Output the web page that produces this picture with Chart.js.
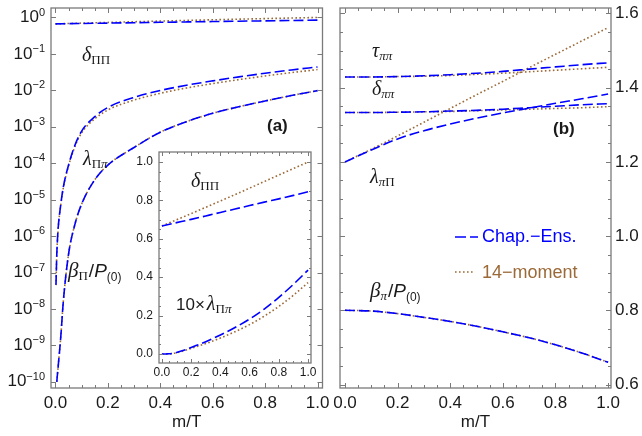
<!DOCTYPE html>
<html>
<head>
<meta charset="utf-8">
<script src="https://cdn.jsdelivr.net/npm/chart.js@4.4.1/dist/chart.umd.min.js"></script>
<style>
body { margin: 0; background: #fff; }
#wrap { position: relative; width: 642px; height: 436px; }
canvas { position: absolute; left: 0; top: 0; }
</style>
</head>
<body>
<div id="wrap">
  <canvas id="left" width="642" height="436"></canvas>
  <canvas id="right" width="642" height="436"></canvas>
  <canvas id="inset" width="642" height="436"></canvas>
</div>
<script>
// m/T grid used for the steep curves of panel (a) and the inset
const mtFine = [0, 0.002, 0.005, 0.01, 0.02, 0.03, 0.05, 0.075, 0.1, 0.15, 0.2, 0.3, 0.4, 0.5, 0.6, 0.7, 0.8, 0.9, 1.0];
// m/T grid for the smooth curves
const mtCoarse = [0, 0.1, 0.2, 0.3, 0.4, 0.5, 0.6, 0.7, 0.8, 0.9, 1.0];

// panel (a), log scale
const lamBulkCE  = [0, 4.6e-8, 3.0e-7, 1.5e-6, 7.1e-6, 2.2e-5, 8.9e-5, 3.2e-4, 7.6e-4, 1.9e-3, 3.4e-3, 6.4e-3, 9.9e-3, 1.38e-2, 1.82e-2, 2.34e-2, 2.95e-2, 3.63e-2, 4.37e-2];
const lamBulk14  = [0, 4.5e-8, 2.9e-7, 1.45e-6, 6.9e-6, 2.1e-5, 8.4e-5, 2.95e-4, 6.8e-4, 1.65e-3, 2.9e-3, 5.4e-3, 8.3e-3, 1.16e-2, 1.53e-2, 1.97e-2, 2.48e-2, 3.06e-2, 3.72e-2];
const betaBulk   = [null, null, 1.0e-10, 2.5e-10, 1.6e-9, 1.6e-8, 3.2e-7, 2.2e-6, 7.6e-6, 3.5e-5, 8.9e-5, 2.7e-4, 7.1e-4, 1.38e-3, 2.34e-3, 3.55e-3, 5.1e-3, 7.2e-3, 9.8e-3];
const deltaBulkCE = [0.667, 0.684, 0.701, 0.719, 0.737, 0.755, 0.773, 0.791, 0.808, 0.826, 0.845];
const deltaBulk14 = [0.667, 0.699, 0.731, 0.764, 0.797, 0.830, 0.864, 0.898, 0.932, 0.966, 1.0];

// panel (b)
const tauShearCE   = [1.429, 1.429, 1.430, 1.432, 1.435, 1.439, 1.444, 1.450, 1.456, 1.462, 1.467];
const tauShear14   = [1.429, 1.429, 1.430, 1.431, 1.433, 1.436, 1.439, 1.443, 1.447, 1.451, 1.455];
const deltaShearCE = [1.333, 1.333, 1.334, 1.335, 1.337, 1.339, 1.342, 1.346, 1.350, 1.354, 1.357];
const deltaShear14 = [1.333, 1.333, 1.334, 1.335, 1.336, 1.338, 1.340, 1.342, 1.344, 1.346, 1.349];
const lamShearCE   = [1.200, 1.232, 1.262, 1.284, 1.302, 1.318, 1.332, 1.345, 1.358, 1.370, 1.383];
const lamShear14   = [1.200, 1.234, 1.270, 1.307, 1.344, 1.381, 1.417, 1.454, 1.490, 1.526, 1.562];
const betaShear    = [0.800, 0.798, 0.791, 0.781, 0.770, 0.757, 0.742, 0.726, 0.707, 0.685, 0.660];

// tick labels
const xTickVals = [0, 0.2, 0.4, 0.6, 0.8, 1.0];
const xTickLabels = ['0.0', '0.2', '0.4', '0.6', '0.8', '1.0'];
const logTickVals = [1, 1e-1, 1e-2, 1e-3, 1e-4, 1e-5, 1e-6, 1e-7, 1e-8, 1e-9, 1e-10];
const logTickExps = ['0', '\u22121', '\u22122', '\u22123', '\u22124', '\u22125', '\u22126', '\u22127', '\u22128', '\u22129', '\u221210'];
const rightTickVals = [0.6, 0.8, 1.0, 1.2, 1.4, 1.6];
const rightTickLabels = ['0.6', '0.8', '1.0', '1.2', '1.4', '1.6'];
const insetTickVals = [0, 0.2, 0.4, 0.6, 0.8, 1.0];
const insetTickLabels = ['0.0', '0.2', '0.4', '0.6', '0.8', '1.0'];

const BLUE = '#0000ff', BROWN = '#9b6a38', TEXT = '#1a1a1a', FRAME = '#7a7a7a';
const SANS = '"Liberation Sans", Arial, sans-serif';
const SERIF = '"Liberation Serif", "Times New Roman", serif';

const pts = (xs, ys, log) => xs.map((m, i) => ({ x: m, y: (ys[i] == null || (log && ys[i] <= 0)) ? null : ys[i] }));
const ce = data => ({ data, borderColor: BLUE, borderDash: [10, 4], borderWidth: 1.6, order: 0 });
const mom = data => ({ data, borderColor: BROWN, borderDash: [1.6, 2.4], borderWidth: 1.6, order: 1 });

const minors = (lo, hi, st, every) => {
  const out = [];
  for (let i = 0; lo + i * st <= hi + 1e-9; i++) if (i % every) out.push(+(lo + i * st).toFixed(4));
  return out;
};

function baseOptions(padding, xr, yType, yr) {
  return {
    responsive: false, animation: false, devicePixelRatio: 1,
    layout: { padding, autoPadding: false },
    plugins: { legend: { display: false }, tooltip: { enabled: false } },
    elements: { point: { radius: 0 }, line: { cubicInterpolationMode: 'monotone', fill: false } },
    scales: {
      x: { type: 'linear', display: false, min: xr[0], max: xr[1], bounds: 'data' },
      y: { type: yType, display: false, min: yr[0], max: yr[1], bounds: 'data' }
    }
  };
}

function frameTicks(chart, xMaj, xMin, yMaj, yMin, maj, min) {
  const { ctx, chartArea: a } = chart, sx = chart.scales.x, sy = chart.scales.y;
  ctx.save();
  ctx.setLineDash([]);
  ctx.strokeStyle = FRAME;
  ctx.lineWidth = 1.3;
  ctx.strokeRect(a.left, a.top, a.right - a.left, a.bottom - a.top);
  ctx.lineWidth = 1;
  ctx.beginPath();
  const vt = (vals, len) => vals.forEach(v => {
    const p = Math.round(sx.getPixelForValue(v)) + 0.5;
    ctx.moveTo(p, a.bottom); ctx.lineTo(p, a.bottom - len);
    ctx.moveTo(p, a.top); ctx.lineTo(p, a.top + len);
  });
  const ht = (vals, len) => vals.forEach(v => {
    const p = Math.round(sy.getPixelForValue(v)) + 0.5;
    ctx.moveTo(a.left, p); ctx.lineTo(a.left + len, p);
    ctx.moveTo(a.right, p); ctx.lineTo(a.right - len, p);
  });
  vt(xMaj, maj); vt(xMin, min); ht(yMaj, maj); ht(yMin, min);
  ctx.stroke();
  ctx.restore();
}

function xLabels(chart, vals, labels, font, y) {
  const ctx = chart.ctx, sx = chart.scales.x;
  ctx.save();
  ctx.font = font; ctx.fillStyle = TEXT; ctx.textAlign = 'center'; ctx.textBaseline = 'middle';
  vals.forEach((v, i) => ctx.fillText(labels[i], sx.getPixelForValue(v), y));
  ctx.restore();
}

// a run of text pieces with their own fonts and baseline shifts
function rich(ctx, x, y, parts, color) {
  ctx.save();
  ctx.fillStyle = color || TEXT; ctx.textAlign = 'left'; ctx.textBaseline = 'alphabetic';
  for (const p of parts) {
    ctx.font = p.f;
    x += p.dx || 0;
    ctx.fillText(p.t, x, y + (p.dy || 0));
    x += ctx.measureText(p.t).width;
  }
  ctx.restore();
}

const GR = 'italic 20px ' + SERIF, SUBU = '13px ' + SERIF, SUBI = 'italic 13px ' + SERIF;
const betaParts = (sub, subFont) => [
  { t: '\u03b2', f: 'italic 21px ' + SERIF },
  { t: sub, f: subFont, dy: 3 },
  { t: '/', f: '19px ' + SANS, dx: 1 },
  { t: 'P', f: 'italic 19px ' + SANS },
  { t: '(0)', f: '12px ' + SANS, dy: 4 }
];

// ---------- panel (a) ----------
new Chart('left', {
  type: 'line',
  data: {
    datasets: [
      ce(pts(mtCoarse, deltaBulkCE)), mom(pts(mtCoarse, deltaBulk14)),
      ce(pts(mtFine, lamBulkCE, true)), mom(pts(mtFine, lamBulk14, true)),
      ce(pts(mtFine, betaBulk, true)), mom(pts(mtFine, betaBulk, true))
    ]
  },
  options: baseOptions({ left: 51, right: 319.5, top: 8, bottom: 48 }, [-0.017, 1.019], 'logarithmic', [6.76e-11, 1.82]),
  plugins: [{
    id: 'decorA',
    afterDraw(chart) {
      const ctx = chart.ctx, sy = chart.scales.y, a = chart.chartArea;
      frameTicks(chart, xTickVals, minors(0, 1, 0.05, 4), logTickVals, [], 5, 3);
      xLabels(chart, xTickVals, xTickLabels, '17px ' + SANS, 403);
      logTickVals.forEach((v, i) => {
        const y = sy.getPixelForValue(v);
        ctx.save();
        ctx.font = '11px ' + SANS;
        const ew = ctx.measureText(logTickExps[i]).width;
        ctx.font = '17px ' + SANS;
        const bw = ctx.measureText('10').width;
        const right = a.left - 6;
        ctx.fillStyle = TEXT; ctx.textBaseline = 'middle'; ctx.textAlign = 'left';
        ctx.fillText('10', right - ew - bw, y);
        ctx.font = '11px ' + SANS;
        ctx.fillText(logTickExps[i], right - ew, y - 5);
        ctx.restore();
      });
      ctx.save();
      ctx.font = '17px ' + SANS; ctx.fillStyle = TEXT; ctx.textAlign = 'center'; ctx.textBaseline = 'middle';
      ctx.fillText('m/T', (a.left + a.right) / 2, 422);
      ctx.font = 'bold 17px ' + SANS; ctx.textAlign = 'left'; ctx.textBaseline = 'alphabetic';
      ctx.fillText('(a)', 267, 131);
      ctx.restore();
      rich(ctx, 82, 61, [{ t: '\u03b4', f: GR }, { t: '\u03a0\u03a0', f: SUBU, dy: 3 }]);
      rich(ctx, 83, 165, [{ t: '\u03bb', f: GR }, { t: '\u03a0', f: SUBU, dy: 3 }, { t: '\u03c0', f: SUBI, dy: 3 }]);
      rich(ctx, 68, 277, betaParts('\u03a0', SUBU));
    }
  }]
});

// ---------- panel (b) ----------
new Chart('right', {
  type: 'line',
  data: {
    datasets: [
      ce(pts(mtCoarse, tauShearCE)), mom(pts(mtCoarse, tauShear14)),
      ce(pts(mtCoarse, deltaShearCE)), mom(pts(mtCoarse, deltaShear14)),
      ce(pts(mtCoarse, lamShearCE)), mom(pts(mtCoarse, lamShear14)),
      ce(pts(mtCoarse, betaShear)), mom(pts(mtCoarse, betaShear))
    ]
  },
  options: baseOptions({ left: 340, right: 31, top: 8, bottom: 48 }, [-0.019, 1.011], 'linear', [0.5906, 1.6148]),
  plugins: [{
    id: 'decorB',
    afterDraw(chart) {
      const ctx = chart.ctx, sy = chart.scales.y, a = chart.chartArea;
      frameTicks(chart, xTickVals, minors(0, 1, 0.05, 4), rightTickVals, minors(0.6, 1.6, 0.05, 4), 5, 3);
      xLabels(chart, xTickVals, xTickLabels, '17px ' + SANS, 403);
      ctx.save();
      ctx.font = '17px ' + SANS; ctx.fillStyle = TEXT; ctx.textAlign = 'left'; ctx.textBaseline = 'middle';
      rightTickVals.forEach((v, i) => ctx.fillText(rightTickLabels[i], a.right + 4, sy.getPixelForValue(v)));
      ctx.textAlign = 'center';
      ctx.fillText('m/T', (a.left + a.right) / 2, 422);
      ctx.font = 'bold 17px ' + SANS; ctx.textAlign = 'left'; ctx.textBaseline = 'alphabetic';
      ctx.fillText('(b)', 553, 134);
      // legend
      ctx.lineWidth = 1.6;
      ctx.strokeStyle = BLUE; ctx.setLineDash([11, 4]);
      ctx.beginPath(); ctx.moveTo(455, 237); ctx.lineTo(478, 237); ctx.stroke();
      ctx.strokeStyle = BROWN; ctx.setLineDash([1.6, 2.4]);
      ctx.beginPath(); ctx.moveTo(455, 272); ctx.lineTo(474, 272); ctx.stroke();
      ctx.font = '18px ' + SANS; ctx.textBaseline = 'middle';
      ctx.fillStyle = BLUE; ctx.fillText('Chap.\u2212Ens.', 482, 237);
      ctx.fillStyle = BROWN; ctx.fillText('14\u2212moment', 482, 273);
      ctx.restore();
      rich(ctx, 372, 57, [{ t: '\u03c4', f: GR }, { t: '\u03c0\u03c0', f: SUBI, dy: 3 }]);
      rich(ctx, 372, 95, [{ t: '\u03b4', f: GR }, { t: '\u03c0\u03c0', f: SUBI, dy: 3 }]);
      rich(ctx, 370, 183, [{ t: '\u03bb', f: GR }, { t: '\u03c0', f: SUBI, dy: 3 }, { t: '\u03a0', f: SUBU, dy: 3 }]);
      rich(ctx, 370, 297, betaParts('\u03c0', SUBI));
    }
  }]
});

// ---------- inset of panel (a), linear scale ----------
new Chart('inset', {
  type: 'line',
  data: {
    datasets: [
      ce(pts(mtCoarse, deltaBulkCE)), mom(pts(mtCoarse, deltaBulk14)),
      ce(pts(mtFine, lamBulkCE.map(v => 10 * v))), mom(pts(mtFine, lamBulk14.map(v => 10 * v)))
    ]
  },
  options: baseOptions({ left: 159, right: 331, top: 152, bottom: 73 }, [-0.02, 1.02], 'linear', [-0.047, 1.052]),
  plugins: [{
    id: 'decorInset',
    beforeDraw(chart) {
      const { ctx, chartArea: a } = chart;
      ctx.save(); ctx.fillStyle = '#fff';
      ctx.fillRect(a.left, a.top, a.right - a.left, a.bottom - a.top);
      ctx.restore();
    },
    afterDraw(chart) {
      const ctx = chart.ctx, sy = chart.scales.y, a = chart.chartArea;
      frameTicks(chart, insetTickVals, minors(0, 1, 0.05, 4), insetTickVals, minors(0, 1, 0.05, 4), 4, 2);
      xLabels(chart, insetTickVals, insetTickLabels, '12px ' + SANS, 373);
      ctx.save();
      ctx.font = '12px ' + SANS; ctx.fillStyle = TEXT; ctx.textAlign = 'right'; ctx.textBaseline = 'middle';
      insetTickVals.forEach((v, i) => ctx.fillText(insetTickLabels[i], a.left - 6, sy.getPixelForValue(v)));
      ctx.restore();
      rich(ctx, 191, 187, [{ t: '\u03b4', f: GR }, { t: '\u03a0\u03a0', f: SUBU, dy: 3 }]);
      rich(ctx, 176, 310, [{ t: '10\u00d7', f: '17px ' + SANS }, { t: '\u03bb', f: GR, dx: 2 }, { t: '\u03a0', f: SUBU, dy: 3 }, { t: '\u03c0', f: SUBI, dy: 3 }]);
    }
  }]
});
</script>
</body>
</html>
